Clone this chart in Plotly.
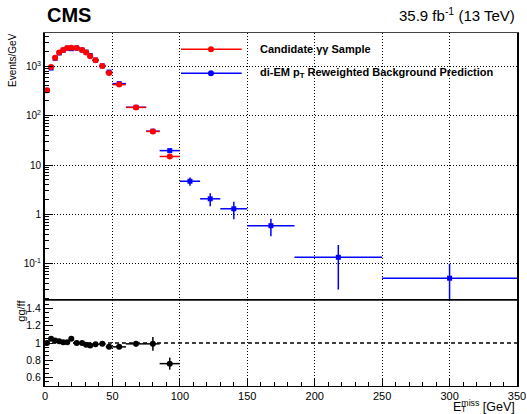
import plotly.graph_objects as go

# MET binning (GeV)
bin_edges = [0, 3, 6, 9, 12, 15, 18, 21, 26, 29, 32, 35, 40, 45, 50,
             60, 75, 85, 100, 115, 130, 150, 185, 250, 350]

# Candidate diphoton sample, events / GeV (first 18 bins)
candidate = [326, 968, 1500, 1900, 2140, 2350, 2390, 2350, 2140, 1900,
             1600, 1320, 1010, 731, 426, 147, 48, 14.9]
candidate_err = [10, 18, 22, 25, 27, 28, 28, 22, 27, 25,
                 23, 16, 14, 12, 6.5, 3.1, 2.2, 1.0]

# di-EM pT reweighted background prediction, events / GeV (all bins)
prediction = [326, 922, 1456, 1863, 2119, 2327, 2276, 2350, 2140, 1939,
              1650, 1340, 1020, 765, 446, 148, 48.5, 19.6,
              4.7, 2.07, 1.3, 0.59, 0.135, 0.051]
prediction_err = [10, 17, 21, 24, 26, 27, 27, 22, 26, 25,
                  23, 16, 14, 12, 6.5, 3.0, 2.0, 1.2,
                  0.9, 0.6, 0.5, 0.23, 0.105, 0.049]

# gg/ff ratio in the signal-free region
ratio = [1.0, 1.05, 1.03, 1.02, 1.01, 1.01, 1.05, 1.0, 1.0, 0.98,
         0.97, 0.985, 0.99, 0.955, 0.955, 0.99, 0.99, 0.76]
ratio_err = [0.03, 0.02, 0.015, 0.015, 0.015, 0.015, 0.015, 0.012, 0.015, 0.015,
             0.016, 0.015, 0.016, 0.018, 0.02, 0.03, 0.08, 0.07]

x_ticks = [0, 50, 100, 150, 200, 250, 300, 350]
y_ticks = [0.1, 1, 10, 100, 1000]
y_ticktext = ["10<sup>-1</sup>", "1", "10", "10<sup>2</sup>", "10<sup>3</sup>"]
ratio_ticks = [0.6, 0.8, 1.0, 1.2, 1.4]

centers = [(lo + hi) / 2 for lo, hi in zip(bin_edges[:-1], bin_edges[1:])]
half_w = [(hi - lo) / 2 for lo, hi in zip(bin_edges[:-1], bin_edges[1:])]
n_cand = len(candidate)

minor_log = [m * 10 ** k for k in range(-2, 4) for m in range(2, 10)]

FONT = "Liberation Sans, Arial, sans-serif"
RED = "#ff0000"
BLUE = "#0000ff"
GRID_DASH = "1px,2px"

fig = go.Figure()

fig.add_trace(go.Scatter(
    x=centers, y=prediction, mode="markers",
    marker=dict(symbol="square", size=5, color=BLUE),
    error_x=dict(type="data", array=half_w, color=BLUE, thickness=1.5, width=0),
    error_y=dict(type="data", array=prediction_err, color=BLUE, thickness=1.5, width=0),
    xaxis="x", yaxis="y", name="di-EM pT Reweighted Background Prediction",
))
fig.add_trace(go.Scatter(
    x=centers[:n_cand], y=candidate, mode="markers",
    marker=dict(symbol="circle", size=6, color=RED),
    error_x=dict(type="data", array=half_w[:n_cand], color=RED, thickness=1.5, width=0),
    error_y=dict(type="data", array=candidate_err, color=RED, thickness=1.5, width=0),
    xaxis="x", yaxis="y", name="Candidate γγ Sample",
))
fig.add_trace(go.Scatter(
    x=centers[:n_cand], y=ratio, mode="markers",
    marker=dict(symbol="circle", size=6, color="black"),
    error_x=dict(type="data", array=half_w[:n_cand], color="black", thickness=1.5, width=0),
    error_y=dict(type="data", array=ratio_err, color="black", thickness=1.5, width=0),
    xaxis="x2", yaxis="y2", name="gg/ff",
))

split = 86 / 353

fig.update_layout(
    template="none",
    width=527, height=414,
    margin=dict(l=45, r=10, t=33, b=28, autoexpand=False),
    paper_bgcolor="white", plot_bgcolor="white",
    showlegend=False,
    font=dict(family=FONT, size=10, color="black"),
    xaxis=dict(
        domain=[0, 1], anchor="y", range=[0, 350], matches="x2",
        tickvals=x_ticks, showticklabels=False, ticks="",
        showgrid=True, gridcolor="black", gridwidth=1, griddash=GRID_DASH,
        showline=True, linecolor="#444", linewidth=1, mirror=True,
        zeroline=False, automargin=False,
    ),
    yaxis=dict(
        domain=[split, 1], anchor="x", type="log", range=[-1.734, 3.675],
        tickvals=y_ticks, ticktext=y_ticktext,
        ticks="inside", ticklen=8, tickcolor="black", tickwidth=1,
        minor=dict(tickvals=minor_log, ticks="inside", ticklen=4,
                   tickcolor="black", showgrid=False),
        showgrid=True, gridcolor="black", gridwidth=1, griddash=GRID_DASH,
        showline=True, linecolor="black", linewidth=2, mirror=True,
        zeroline=False, tickfont=dict(size=10), automargin=False,
    ),
    xaxis2=dict(
        domain=[0, 1], anchor="y2", range=[0, 350],
        tickvals=x_ticks, ticks="inside", ticklen=8, tickcolor="black",
        minor=dict(dtick=10, tick0=0, ticks="inside", ticklen=4,
                   tickcolor="black", showgrid=False),
        showgrid=True, gridcolor="black", gridwidth=1, griddash=GRID_DASH,
        showline=True, linecolor="black", linewidth=1, mirror=True,
        zeroline=False, tickfont=dict(size=11), automargin=False,
    ),
    yaxis2=dict(
        domain=[0, split], anchor="x2", range=[0.5, 1.5],
        tickvals=ratio_ticks, ticks="inside", ticklen=8, tickcolor="black",
        minor=dict(dtick=0.05, tick0=0.5, ticks="inside", ticklen=4,
                   tickcolor="black", showgrid=False),
        showgrid=False,
        showline=True, linecolor="black", linewidth=2, mirror=True,
        zeroline=False, tickfont=dict(size=10.5), automargin=False,
    ),
)

# unity reference in the ratio panel
fig.add_shape(type="line", xref="x2 domain", x0=0, x1=1, yref="y2", y0=1, y1=1,
              line=dict(color="black", width=1.5, dash="4px,3px"))

# legend keys
legend_rows = [(0.9538, RED), (0.8858, BLUE)]
for ly, col in legend_rows:
    fig.add_shape(type="line", xref="paper", yref="paper",
                  x0=0.2881, x1=0.4167, y0=ly, y1=ly,
                  line=dict(color=col, width=1.5))
    fig.add_shape(type="circle", xref="paper", yref="paper",
                  xsizemode="pixel", ysizemode="pixel",
                  xanchor=0.3517, yanchor=ly,
                  x0=-3, x1=3, y0=-3, y1=3,
                  fillcolor=col, line=dict(color=col, width=0))

legend_texts = ["<b>Candidate γγ Sample</b>",
                "<b>di-EM p<sub>T</sub> Reweighted Background Prediction</b>"]
for (ly, _), txt in zip(legend_rows, legend_texts):
    fig.add_annotation(text=txt, xref="paper", yref="paper", x=0.4506, y=ly,
                       xanchor="left", yanchor="middle", showarrow=False,
                       font=dict(size=11, family=FONT, color="black"))

fig.add_annotation(text="<b>CMS</b>", xref="paper", yref="paper", x=0, y=1.051,
                   xanchor="left", yanchor="middle", showarrow=False,
                   font=dict(size=20, family=FONT, color="black"))
fig.add_annotation(text="35.9 fb<sup>-1</sup> (13 TeV)", xref="paper", yref="paper",
                   x=1.0, y=1.0538, xanchor="right", yanchor="middle", showarrow=False,
                   font=dict(size=15, family=FONT, color="black"))
fig.add_annotation(text="Events/GeV", xref="paper", yref="paper",
                   x=-0.0699, y=0.9235, textangle=-90,
                   xanchor="center", yanchor="middle", showarrow=False,
                   font=dict(size=10, family=FONT, color="black"))
fig.add_annotation(text="gg/ff", xref="paper", yref="paper",
                   x=-0.0515, y=0.2125, textangle=-90,
                   xanchor="center", yanchor="middle", showarrow=False,
                   font=dict(size=11, family=FONT, color="black"))
fig.add_annotation(text="E<sup>miss</sup> [GeV]", xref="paper", yref="paper",
                   x=1.0, y=-0.056, xanchor="right", yanchor="middle", showarrow=False,
                   font=dict(size=12.5, family=FONT, color="black"))
fig.add_annotation(text="T", xref="paper", yref="paper",
                   x=0.8856, y=-0.0652, xanchor="center", yanchor="middle",
                   borderpad=0, showarrow=False,
                   font=dict(size=8.5, family=FONT, color="black"))

fig.write_html("out.html")
